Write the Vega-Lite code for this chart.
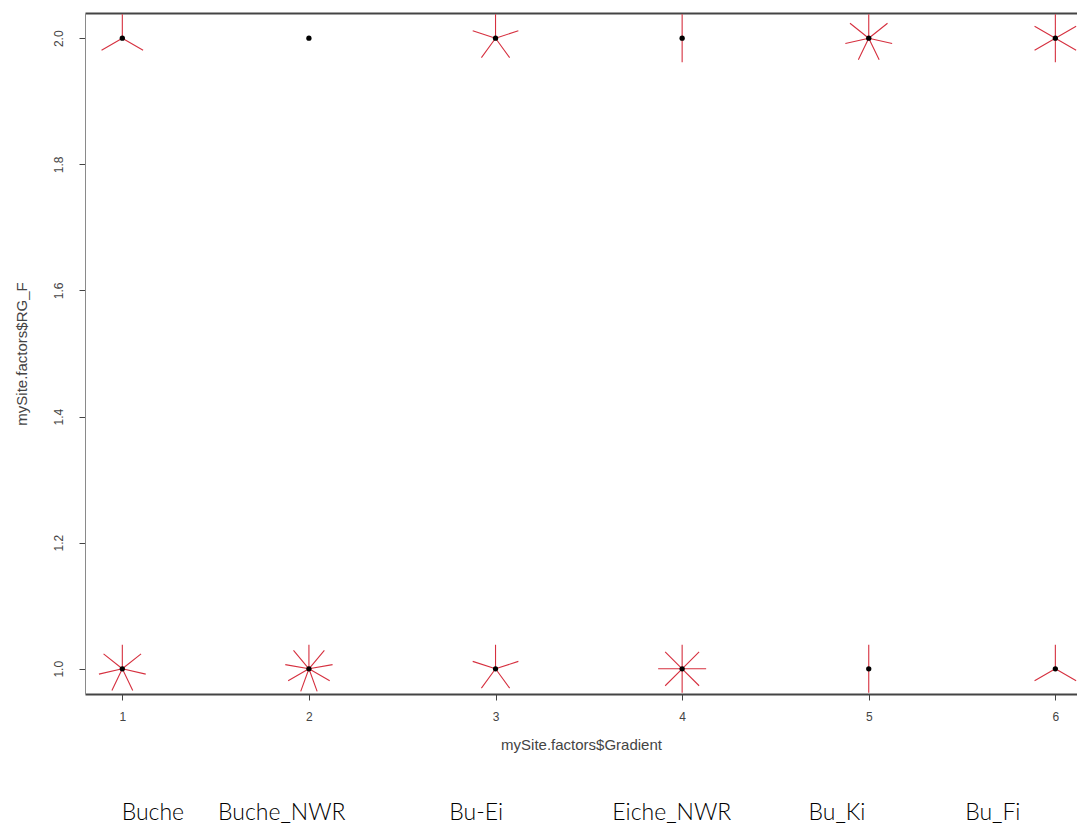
{
  "$schema": "https://vega.github.io/schema/vega-lite/v6.json",
  "width": 992,
  "height": 681,
  "padding": {"left": 85, "top": 13, "right": 0, "bottom": 142},
  "autosize": {"type": "none"},
  "background": "white",
  "data": {
    "values": [
      {"site": 1, "rg": 2, "n": 3},
      {"site": 2, "rg": 2, "n": 1},
      {"site": 3, "rg": 2, "n": 5},
      {"site": 4, "rg": 2, "n": 2},
      {"site": 5, "rg": 2, "n": 7},
      {"site": 6, "rg": 2, "n": 6},
      {"site": 1, "rg": 1, "n": 7},
      {"site": 2, "rg": 1, "n": 9},
      {"site": 3, "rg": 1, "n": 5},
      {"site": 4, "rg": 1, "n": 8},
      {"site": 5, "rg": 1, "n": 2},
      {"site": 6, "rg": 1, "n": 3}
    ]
  },
  "encoding": {
    "y": {
      "field": "rg",
      "type": "quantitative",
      "scale": {"domain": [0.96, 2.04], "nice": false, "zero": false},
      "axis": {
        "values": [1, 1.2, 1.4, 1.6, 1.8, 2],
        "format": ".1f",
        "labelAngle": 270,
        "labelAlign": "center",
        "labelBaseline": "bottom",
        "labelPadding": 14,
        "labelFontSize": 12,
        "tickSize": 6,
        "title": "mySite.factors$RG_F",
        "titleFontSize": 15,
        "titlePadding": 23,
        "domainColor": "#8a8a8a",
        "domainWidth": 1,
        "grid": false
      }
    }
  },
  "layer": [
    {
      "transform": [{"filter": "datum.n > 1"}],
      "mark": {"type": "point", "filled": false, "stroke": "#d6303f", "strokeWidth": 1.1, "size": 2304, "opacity": 1},
      "encoding": {
        "x": {
          "field": "site",
          "type": "quantitative",
          "scale": {"domain": [0.8, 6.116], "nice": false, "zero": false},
          "axis": {
            "orient": "bottom",
            "values": [1.161, 1.852, 2.894, 3.942, 4.827, 5.662],
            "labelExpr": "['Buche','Buche_NWR','Bu-Ei','Eiche_NWR','Bu_Ki','Bu_Fi'][indexof([1.161,1.852,2.894,3.942,4.827,5.662], datum.value)]",
            "domain": false,
            "ticks": false,
            "grid": false,
            "labelPadding": 107,
            "labelFont": "Lato",
            "labelFontSize": 23,
            "labelFontWeight": 300,
            "labelColor": "#000000",
            "labelOverlap": false,
            "labelBound": false,
            "labelFlush": false,
            "title": null
          }
        },
        "shape": {
          "field": "n",
          "type": "nominal",
          "legend": null,
          "scale": {
            "domain": [2, 3, 5, 6, 7, 8, 9],
            "range": [
              "M0,0L0,1M0,0L0,-1",
              "M0,0L0.866,0.5M0,0L-0.866,0.5M0,0L0,-1",
              "M0,0L0.951,-0.309M0,0L0.588,0.809M0,0L-0.588,0.809M0,0L-0.951,-0.309M0,0L0,-1",
              "M0,0L0.866,-0.5M0,0L0.866,0.5M0,0L0,1M0,0L-0.866,0.5M0,0L-0.866,-0.5M0,0L0,-1",
              "M0,0L0.782,-0.623M0,0L0.975,0.223M0,0L0.434,0.901M0,0L-0.434,0.901M0,0L-0.975,0.223M0,0L-0.782,-0.623M0,0L0,-1",
              "M0,0L0.707,-0.707M0,0L1,0M0,0L0.707,0.707M0,0L0,1M0,0L-0.707,0.707M0,0L-1,0M0,0L-0.707,-0.707M0,0L0,-1",
              "M0,0L0.643,-0.766M0,0L0.985,-0.174M0,0L0.866,0.5M0,0L0.342,0.94M0,0L-0.342,0.94M0,0L-0.866,0.5M0,0L-0.985,-0.174M0,0L-0.643,-0.766M0,0L0,-1"
            ]
          }
        }
      }
    },
    {
      "mark": {"type": "point", "filled": true, "color": "#000000", "size": 28, "opacity": 1},
      "encoding": {
        "x": {
          "field": "site",
          "type": "quantitative",
          "scale": {"domain": [0.8, 6.116], "nice": false, "zero": false},
          "axis": {
            "orient": "bottom",
            "values": [1, 2, 3, 4, 5, 6],
            "format": "d",
            "tickSize": 6,
            "labelPadding": 11,
            "labelFontSize": 12,
            "title": "mySite.factors$Gradient",
            "titleFontSize": 15,
            "titlePadding": 15,
            "domainColor": "#444444",
            "domainWidth": 2,
            "grid": false
          }
        }
      }
    },
    {
      "mark": {"type": "point", "opacity": 0},
      "encoding": {
        "x": {
          "field": "site",
          "type": "quantitative",
          "scale": {"domain": [0.8, 6.116], "nice": false, "zero": false},
          "axis": {
            "orient": "top",
            "labels": false,
            "ticks": false,
            "domain": true,
            "domainColor": "#444444",
            "domainWidth": 2,
            "grid": false,
            "title": null
          }
        }
      }
    }
  ],
  "resolve": {"axis": {"x": "independent"}},
  "config": {
    "view": {"stroke": null},
    "axis": {
      "labelFont": "Liberation Sans",
      "titleFont": "Liberation Sans",
      "labelColor": "#444444",
      "titleColor": "#444444",
      "titleFontWeight": "normal",
      "tickColor": "#444444",
      "tickWidth": 1
    }
  }
}
